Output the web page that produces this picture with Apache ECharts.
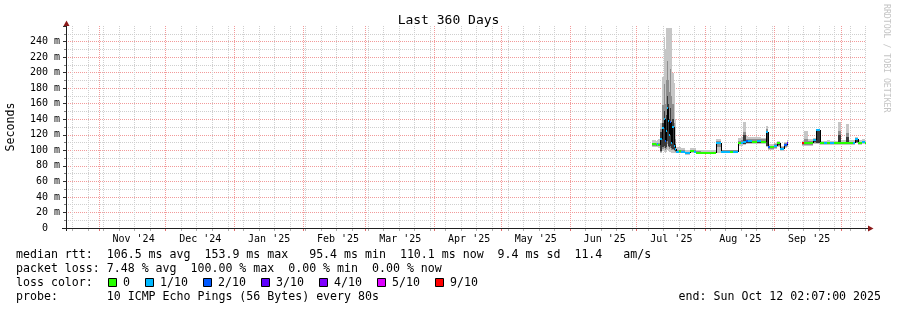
<!DOCTYPE html>
<html>
<head>
<meta charset="utf-8">
<script src="https://cdn.jsdelivr.net/npm/echarts@6/dist/echarts.min.js"></script>
<style>html,body{margin:0;padding:0;background:#ffffff;}#chart{width:897px;height:310px;}</style>
</head>
<body>
<div id="chart"></div>
<script>
// ---------------- data ----------------
const START = '2024-10-17 02:07';
const END = '2025-10-12 02:07';

const times = ['2025-07-08 00:00','2025-07-09 12:00','2025-07-10 00:00','2025-07-10 12:00','2025-07-11 12:00','2025-07-12 06:00','2025-07-13 00:00','2025-07-13 12:00','2025-07-14 00:00','2025-07-14 12:00',
 '2025-07-15 00:00','2025-07-15 12:00','2025-07-16 00:00','2025-07-16 12:00','2025-07-17 00:00','2025-07-17 12:00','2025-07-18 00:00','2025-07-18 12:00','2025-07-20 00:00','2025-07-21 00:00',
 '2025-07-22 12:00','2025-07-24 18:00','2025-07-26 12:00','2025-07-27 18:00','2025-07-30 00:00','2025-08-05 18:00','2025-08-07 18:00','2025-08-11 18:00','2025-08-13 06:00','2025-08-15 12:00',
 '2025-08-16 18:00','2025-08-17 21:00','2025-08-19 00:00','2025-08-20 00:00','2025-08-22 00:00','2025-08-24 00:00','2025-08-26 00:00','2025-08-27 22:00','2025-08-29 00:00','2025-08-30 00:00',
 '2025-08-31 12:00','2025-09-02 06:00','2025-09-03 12:00','2025-09-05 00:00','2025-09-06 12:00','2025-09-07 03:00','2025-09-13 06:00','2025-09-14 00:00','2025-09-16 00:00','2025-09-18 06:00',
 '2025-09-19 18:00','2025-09-21 06:00','2025-09-23 00:00','2025-09-24 12:00','2025-09-26 00:00','2025-09-27 12:00','2025-09-29 12:00','2025-10-01 00:00','2025-10-03 00:00','2025-10-04 06:00',
 '2025-10-06 06:00','2025-10-07 06:00','2025-10-08 12:00','2025-10-10 12:00','2025-10-11 12:00'];

const median = [108,107,108,107,115,129,140,112,125,154, 138,120,136,110,130,106,102,98,99,98, 96,99,98,97,96,110,98,98,98,110,
 110,111,112,112,111,112,111,124,104,104, 106,109,102,107,109,null,109,109,109,113, 126,109,109,110,109,109,109,109,109,109, 110,114,110,111,110];

const loss = [0,0,1,0,1,1,1,2,1,1, 1,1,2,1,1,1,1,1,0,1, 1,0,1,0,0,1,1,0,1,0,
 1,1,2,1,0,1,0,1,2,0, 1,0,1,2,3,null,9,0,0,1, 1,0,1,0,1,0,0,0,0,0, 1,1,0,1,0];

const smokeMin = [104,104,104,103,96,99,98,97,98,100, 99,98,98,97,97,96,96,96,96,96, 94,97,96,96,95,97,96,96,96,106,
 106,107,108,108,108,108,108,104,101,101, 102,104,99,103,104,null,106,106,106,108, 108,107,107,107,107,107,107,107,107,107, 107,109,107,108,107];
const smokeMax = [113,112,113,114,135,194,246,230,258,258, 258,258,258,258,200,186,140,104,104,103, 100,103,103,101,100,114,101,101,101,116,
 117,137,118,117,117,117,116,131,108,108, 110,112,106,111,113,null,112,125,115,116, 128,112,112,113,112,112,137,113,134,113, 113,117,113,114,113];
const midMin = [105,105,105,105,98,102,103,101,102,108, 104,102,103,101,100,99,98,97,97,97, 95,98,97,96,95,104,97,97,97,108,
 108,108,109,109,109,109,109,105,102,102, 103,106,100,104,106,null,107,107,107,109, 109,108,108,108,108,108,108,108,108,108, 108,110,108,109,108];
const midMax = [110,109,110,110,128,158,185,160,190,215, 190,175,205,170,160,135,115,101,101,100, 98,101,100,99,98,112,100,100,100,112,
 113,124,115,114,114,114,114,127,106,106, 108,110,104,109,111,null,110,114,112,115, 127,111,111,111,111,111,125,111,122,111, 111,115,111,112,111];
const coreMin = [107,106,107,106,99,104,105,103,104,112, 106,104,105,103,102,100,99,97,98,97, 95,98,97,96,95,108,97,97,97,109,
 109,108,110,110,110,110,110,106,103,103, 104,107,101,105,107,null,108,108,108,111, 110,108,108,109,108,108,108,108,108,108, 109,111,109,110,109];
const coreMax = [109,108,109,108,124,135,150,130,145,170, 160,140,155,130,140,120,108,99,100,99, 97,100,99,98,97,111,99,99,99,111,
 111,120,113,113,112,113,112,125,105,105, 107,110,103,108,110,null,110,111,110,114, 126,110,110,111,110,110,120,110,117,110, 111,114,111,112,111];

const monthStarts = ['2024-11-01','2024-12-01','2025-01-01','2025-02-01','2025-03-01','2025-04-01','2025-05-01','2025-06-01','2025-07-01','2025-08-01','2025-09-01','2025-10-01'];
const firstWeekLine = '2024-10-20';
const monthLabelAt = ['2024-11-16 12:00','2024-12-16 12:00','2025-01-16 12:00','2025-02-16 12:00','2025-03-16 12:00','2025-04-16 12:00','2025-05-16 12:00','2025-06-16 12:00','2025-07-16 12:00','2025-08-16 12:00','2025-09-16 12:00'];
const monthLabels = ["Nov '24","Dec '24","Jan '25","Feb '25","Mar '25","Apr '25","May '25","Jun '25","Jul '25","Aug '25","Sep '25"];

const Y_MIN = 0, Y_MAX = 260, Y_STEP = 20;

const lossThresholds = [0,1,2,3,4,5,9];
const lossLabels = ['0','1/10','2/10','3/10','4/10','5/10','9/10'];
const lossColors = ['#26ff00','#00b8ff','#0059ff','#5e00ff','#7e00ff','#dd00ff','#ff0000'];

const legendRows = [
  'median rtt:  106.5 ms avg  153.9 ms max   95.4 ms min  110.1 ms now  9.4 ms sd  11.4   am/s',
  'packet loss: 7.48 % avg  100.00 % max  0.00 % min  0.00 % now',
  'loss color:',
  'probe:       10 ICMP Echo Pings (56 Bytes) every 80s'
];
const endText = 'end: Sun Oct 12 02:07:00 2025';
const titleText = 'Last 360 Days';
const yName = 'Seconds';
const watermark = 'RRDTOOL / TOBI OETIKER';

// ---------------- helpers ----------------
const MONO = '"DejaVu Sans Mono", monospace';
const DAY = 86400000;
function ts(s) {
  const parts = s.split(' ');
  const d = parts[0].split('-').map(Number);
  const t = (parts[1] || '00:00').split(':').map(Number);
  return Date.UTC(d[0], d[1] - 1, d[2], t[0], t[1]);
}
function lossColor(n) {
  let c = lossColors[0];
  for (let i = 0; i < lossThresholds.length; i++) if (n >= lossThresholds[i]) c = lossColors[i];
  return c;
}
const tStart = ts(START), tEnd = ts(END);
const monthLabelTimes = monthLabelAt.map(ts);

const bins = [];
for (let i = 0; i < times.length; i++) {
  if (median[i] == null) continue;
  const s = ts(times[i]);
  const e = i + 1 < times.length ? ts(times[i + 1]) : tEnd;
  const next = (i + 1 < times.length && median[i + 1] != null) ? median[i + 1] : -1;
  bins.push([s, e, median[i], loss[i], smokeMin[i], smokeMax[i], midMin[i], midMax[i], coreMin[i], coreMax[i], next]);
}

const gridLines = [];
for (let t = ts(firstWeekLine); t <= tEnd; t += 7 * DAY) gridLines.push([t, 0]);
monthStarts.forEach(m => gridLines.push([ts(m), 1]));

// ---------------- layout ----------------
const W = 897, H = 310;
const G_LEFT = 66, G_RIGHT_X = 866, G_TOP = 26, G_BOTTOM_Y = 228;

const chart = echarts.init(document.getElementById('chart'), null, {renderer: 'canvas', width: W, height: H});

function renderGrid(params, api) {
  const t = api.value(0), major = api.value(1) === 1;
  const pb = api.coord([t, Y_MIN]), pt = api.coord([t, Y_MAX]);
  const x = Math.floor(pb[0]) + 0.5;
  return {
    type: 'group',
    children: [
      {type: 'line', shape: {x1: x, y1: pt[1], x2: x, y2: pb[1]},
       style: {stroke: major ? '#f29a9a' : '#cfcfcf', lineWidth: 1, lineDash: [1, 1]}},
      {type: 'line', shape: {x1: x, y1: pb[1] + 1, x2: x, y2: pb[1] + 3},
       style: {stroke: major ? '#e07070' : '#b0b0b0', lineWidth: 1}}
    ]
  };
}

function renderSmoke(params, api) {
  const x0 = Math.round(api.coord([api.value(0), 0])[0]);
  const x1 = Math.round(api.coord([api.value(1), 0])[0]);
  if (x1 <= x0) return null;
  const band = (lo, hi, color) => {
    const yt = api.coord([api.value(0), hi])[1];
    const yb = api.coord([api.value(0), lo])[1];
    return {type: 'rect', shape: {x: x0, y: Math.round(yt), width: x1 - x0, height: Math.max(1, Math.round(yb) - Math.round(yt))}, style: {fill: color}};
  };
  return {type: 'group', children: [
    band(api.value(4), api.value(5), '#c6c6c6'),
    band(api.value(6), api.value(7), '#8e8e8e'),
    band(api.value(8), api.value(9), '#3a3a3a')
  ]};
}

function renderMedian(params, api) {
  const x0 = Math.round(api.coord([api.value(0), 0])[0]);
  const x1 = Math.round(api.coord([api.value(1), 0])[0]);
  const y = Math.round(api.coord([api.value(0), api.value(2)])[1]);
  const children = [];
  const next = api.value(10);
  if (next >= 0) {
    const yn = Math.round(api.coord([api.value(1), next])[1]);
    if (yn !== y) {
      children.push({type: 'line', shape: {x1: x1 + 0.5, y1: y, x2: x1 + 0.5, y2: yn}, style: {stroke: '#000000', lineWidth: 1}});
    }
  }
  if (x1 > x0) {
    children.push({type: 'rect', shape: {x: x0, y: y - 1, width: x1 - x0, height: 2}, style: {fill: lossColor(api.value(3))}});
  }
  return {type: 'group', children: children};
}

// legend graphics
const graphics = [];
const rowY = [255, 269, 283, 297];
legendRows.forEach((txt, i) => {
  graphics.push({type: 'text', x: 16, y: rowY[i], silent: true,
    style: {text: txt, font: '11.6px ' + MONO, fill: '#000', align: 'left', verticalAlign: 'middle'}});
});
graphics.push({type: 'text', x: 881, y: rowY[3], silent: true,
  style: {text: endText, font: '11.6px ' + MONO, fill: '#000', align: 'right', verticalAlign: 'middle'}});
let lx = 108;
lossLabels.forEach((lab, i) => {
  graphics.push({type: 'rect', silent: true, shape: {x: lx + 0.5, y: 278.5, width: 8, height: 8},
    style: {fill: lossColors[i], stroke: '#000', lineWidth: 1}});
  graphics.push({type: 'text', x: lx + 15, y: rowY[2], silent: true,
    style: {text: lab, font: '11.6px ' + MONO, fill: '#000', align: 'left', verticalAlign: 'middle'}});
  lx = lx + 15 + lab.length * 7 + 15;
});
// axis lines and arrows
graphics.push({type: 'line', silent: true, z: 100, shape: {x1: G_LEFT + 0.5, y1: 22, x2: G_LEFT + 0.5, y2: G_BOTTOM_Y + 3}, style: {stroke: '#202020', lineWidth: 1}});
graphics.push({type: 'line', silent: true, z: 100, shape: {x1: G_LEFT - 4, y1: G_BOTTOM_Y + 0.5, x2: G_RIGHT_X + 4, y2: G_BOTTOM_Y + 0.5}, style: {stroke: '#202020', lineWidth: 1}});
graphics.push({type: 'polygon', silent: true, z: 101, shape: {points: [[G_LEFT - 2.5, 26], [G_LEFT + 3.5, 26], [G_LEFT + 0.5, 20.5]]}, style: {fill: '#8b1a1a'}});
graphics.push({type: 'polygon', silent: true, z: 101, shape: {points: [[G_RIGHT_X + 2, G_BOTTOM_Y - 2.5], [G_RIGHT_X + 2, G_BOTTOM_Y + 3.5], [G_RIGHT_X + 7.5, G_BOTTOM_Y + 0.5]]}, style: {fill: '#8b1a1a'}});
// Seconds + watermark
graphics.push({type: 'text', x: 11, y: (G_TOP + G_BOTTOM_Y) / 2, rotation: Math.PI / 2, silent: true,
  style: {text: yName, font: '11.6px ' + MONO, fill: '#000', align: 'center', verticalAlign: 'middle'}});
graphics.push({type: 'text', x: 886, y: 4, rotation: -Math.PI / 2, silent: true,
  style: {text: watermark, font: '8.2px ' + MONO, fill: '#c4c4c4', align: 'left', verticalAlign: 'middle'}});

const option = {
  animation: false,
  backgroundColor: '#ffffff',
  title: {text: titleText, left: 'center', top: 9,
    textStyle: {fontFamily: MONO, fontSize: 13, fontWeight: 'normal', color: '#000'}},
  grid: {left: G_LEFT, right: W - G_RIGHT_X, top: G_TOP, bottom: H - G_BOTTOM_Y, outerBoundsMode: 'none'},
  xAxis: {
    type: 'value', min: tStart, max: tEnd, scale: true,
    axisLine: {show: false}, axisTick: {show: false}, splitLine: {show: false},
    axisLabel: {customValues: monthLabelTimes, hideOverlap: false, showMinLabel: true, showMaxLabel: true,
      formatter: function (v) { const i = monthLabelTimes.indexOf(+v); return i >= 0 ? monthLabels[i] : ''; },
      fontFamily: MONO, fontSize: 10, color: '#000', margin: 6}
  },
  yAxis: {
    type: 'value', min: Y_MIN, max: Y_MAX, interval: Y_STEP,
    axisLine: {show: false},
    axisTick: {show: true, length: 3, lineStyle: {color: '#303030'}},
    minorTick: {show: true, splitNumber: 2, length: 2, lineStyle: {color: '#808080'}},
    splitLine: {show: true, showMaxLine: false, lineStyle: {color: '#f29a9a', width: 1, type: [1, 1]}},
    minorSplitLine: {show: true, lineStyle: {color: '#cfcfcf', width: 1, type: [1, 1]}},
    axisLabel: {margin: 6, fontFamily: MONO, fontSize: 10, color: '#000',
      formatter: function (v) { if (v === 0) return '0\u00a0\u00a0'; if (v >= Y_MAX) return ''; return v + ' m'; }}
  },
  series: [
    {type: 'custom', name: 'grid', z: 1, silent: true, clip: false, renderItem: renderGrid, data: gridLines, encode: {x: 0, y: 1}},
    {type: 'custom', name: 'smoke', z: 2, silent: true, clip: true, renderItem: renderSmoke, data: bins, encode: {x: [0, 1], y: [4, 5]}},
    {type: 'custom', name: 'median rtt', z: 3, silent: true, clip: true, renderItem: renderMedian, data: bins, encode: {x: [0, 1], y: 2}}
  ],
  graphic: graphics
};
chart.setOption(option);
</script>
</body>
</html>
